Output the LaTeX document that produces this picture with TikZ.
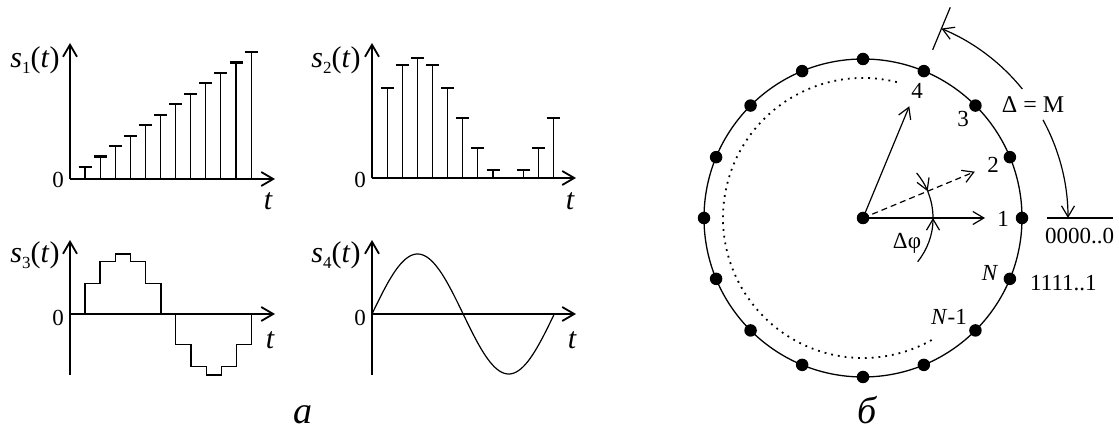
\documentclass[tikz,border=0pt]{standalone}
\usepackage{fontspec}
\setmainfont{Liberation Serif}
\usetikzlibrary{arrows.meta}
\newcommand\slab[1]{\fontsize{30}{30}\selectfont\textit{s}\raisebox{-0.22em}{\fontsize{17}{17}\selectfont #1}(\textit{t})}
\begin{document}
\begin{tikzpicture}[x=1pt,y=1pt,
  axis/.style={line width=1.8pt,-{Straight Barb[length=12pt,width=14pt]}},
  stemline/.style={line width=1.1pt},
  capline/.style={line width=2.2pt},
  sig/.style={line width=1.2pt},
  thinarrow/.style={line width=1.2pt,-{Straight Barb[length=11pt,width=13pt]}},
  zerolab/.style={font=\fontsize{23}{23}\selectfont,anchor=east,inner sep=0pt},
  tlab/.style={font=\fontsize{30}{30}\selectfont\itshape,inner sep=0pt},
  numlab/.style={font=\fontsize{23}{23}\selectfont,inner sep=0pt},
  dot/.style={circle,fill=black,minimum size=12.5pt,inner sep=0pt},
  panellab/.style={font=\fontsize{38}{38}\selectfont\itshape,inner sep=0pt,anchor=base}]
\useasboundingbox (0,0) rectangle (1119,430);

% ---------- s1 ----------
\coordinate (o1) at (70,251);
\draw[axis] (o1) -- (70,387);
\draw[axis] (o1) -- (275,251);
\foreach \k in {1,...,12}{
  \pgfmathsetmacro\xx{85+15.1*(\k-1)}
  \pgfmathsetmacro\hh{251+12+10.45*(\k-1)}
  \draw[stemline] (\xx,251) -- (\xx,\hh);
  \draw[capline] (\xx-6.5,\hh) -- (\xx+6.5,\hh);
}
\node[zerolab] (z1) at (64,250) {0};
\node[inner sep=0pt] (l1) at (35,370) {\slab{1}};
\node[tlab] (t1) at (268,229) {t};

% ---------- s2 ----------
\coordinate (o2) at (372,252);
\draw[axis] (o2) -- (372,387);
\draw[axis] (o2) -- (576,252);
\foreach \k/\h in {1/90,2/113,3/120,4/113,5/90,6/60,7/30,8/8,10/8,11/30,12/60}{
  \pgfmathsetmacro\xx{387.3+15.1*(\k-1)}
  \draw[stemline] (\xx,252) -- (\xx,252+\h);
  \draw[capline] (\xx-6.5,252+\h) -- (\xx+6.5,252+\h);
}
\node[zerolab] (z2) at (366,250) {0};
\node[inner sep=0pt] (l2) at (336,370) {\slab{2}};
\node[tlab] (t2) at (570,229) {t};

% ---------- s3 ----------
\coordinate (o3) at (70,116);
\draw[line width=1.8pt] (o3) -- (70,55);
\draw[axis] (o3) -- (70,190);
\draw[axis] (o3) -- (275,116);
\draw[sig] (70,116) -- (85,116) -- (85,146.7) -- (100,146.7) -- (100,168.3) -- (115.3,168.3)
  -- (115.3,176) -- (130.3,176) -- (130.3,168.3) -- (145.7,168.3) -- (145.7,146.7)
  -- (161,146.7) -- (161,116) -- (175.7,116) -- (175.7,85.7) -- (191,85.7) -- (191,63.3)
  -- (206.3,63.3) -- (206.3,55) -- (221.3,55) -- (221.3,63.3) -- (236.7,63.3)
  -- (236.7,85.7) -- (251.7,85.7) -- (251.7,116);
\node[zerolab] (z3) at (64,112) {0};
\node[inner sep=0pt] (l3) at (35,175) {\slab{3}};
\node[tlab] (t3) at (270,90) {t};

% ---------- s4 ----------
\coordinate (o4) at (372,116);
\draw[line width=1.8pt] (o4) -- (372,55);
\draw[axis] (o4) -- (372,190);
\draw[axis] (o4) -- (576,116);
\draw[sig] plot[domain=0:182.3,samples=120,smooth] ({372+\x},{116+60*sin(1.97477*\x)});
\node[zerolab] (z4) at (366,112) {0};
\node[inner sep=0pt] (l4) at (336,175) {\slab{4}};
\node[tlab] (t4) at (572,90) {t};

\node[panellab] (pa) at (303,6) {а};
\node[panellab] (pb) at (867,6) {б};

% ---------- circle ----------
\begin{scope}[shift={(863,212)}]
  \coordinate (O) at (0,0);
  \draw[line width=1.3pt] (O) circle[radius=159];
  \foreach \i in {0,...,15}{
    \node[dot] (d\i) at (\i*22.5:159) {};
  }
  \node[dot] (c) at (O) {};
  \draw[line width=1.8pt,dash pattern=on 1.8pt off 5pt] (76:140) arc[start angle=76,end angle=300,radius=140];
  \coordinate (a1) at (0:122);
  \coordinate (a2) at (22.5:121);
  \coordinate (a4) at (67.5:121);
  \draw[thinarrow] (O) -- (a1);
  \draw[thinarrow,dash pattern=on 6pt off 4pt] (O) -- (a2);
  \draw[thinarrow] (O) -- (a4);
  % delta phi
  \draw[thinarrow] (-38.7:70) arc[start angle=-38.7,end angle=0,radius=70];
  \draw[line width=1.2pt] (0:70) arc[start angle=0,end angle=22.5,radius=70];
  \draw[thinarrow] (40:70) arc[start angle=40,end angle=22.5,radius=70];
  \node[numlab] (dphi) at (44,-25) {Δφ};
  % big arcs
  \coordinate (tk1) at (67.5:182);
  \coordinate (tk2) at (67.5:228);
  \draw[line width=1.2pt] (tk1) -- (tk2);
  \draw[thinarrow] (39:205) arc[start angle=39,end angle=67.5,radius=205];
  \draw[thinarrow] (28.6:205) arc[start angle=28.6,end angle=0,radius=205];
  \node[font=\fontsize{24}{24}\selectfont,inner sep=0pt] (dm) at (170,113) {Δ = M};
  % labels
  \node[numlab] (n1) at (140,-1) {1};
  \node[numlab] (n2) at (130,53) {2};
  \node[numlab] (n3) at (100,99) {3};
  \node[numlab] (n4) at (54,127) {4};
  \node[numlab] (nN) at (127,-55) {\textit{N}};
  \node[numlab] (nN1) at (86,-99) {\textit{N}-1};
  \node[numlab,anchor=west] (ones) at (167,-65) {1111..1};
  \node[numlab,anchor=west] (zeros) at (182,-18) {0000..0};
  \coordinate (ln1) at (184,0);
  \coordinate (ln2) at (250,0);
  \draw[line width=1.2pt] (ln1) -- (ln2);
\end{scope}
\end{tikzpicture}
\end{document}
